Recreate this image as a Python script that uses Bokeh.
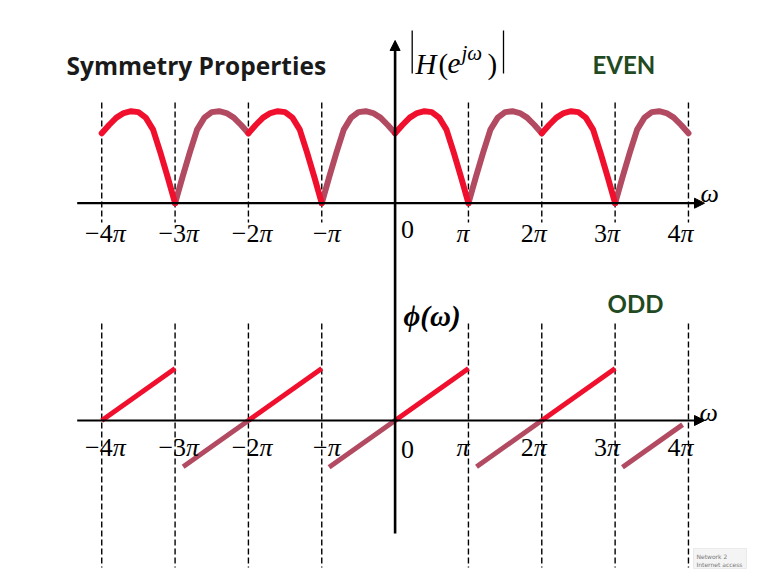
from bokeh.plotting import figure
from bokeh.models import Range1d, Label, Arrow, NormalHead, BoxAnnotation
from bokeh.core.properties import value
from bokeh.embed import file_html
from bokeh.resources import INLINE

# ---- data (angles in units of pi) ----
# one lobe of |H(e^jw)| on [0, pi], normalised to its peak
mag_w = [0.0, 0.1, 0.2, 0.3, 0.4, 0.5, 0.6, 0.7, 0.8, 0.9, 1.0]
mag_h = [0.76, 0.85, 0.93, 0.98, 1.0, 0.99, 0.93, 0.80, 0.55, 0.28, 0.0]
bright_starts = [-4, -2, 0, 2]     # lobes drawn as the base lobe
mirror_starts = [-3, -1, 1, 3]     # lobes drawn as its mirror image

# linear-phase pieces phi(w), both in units of pi
phase_w0 = [-4, -2, 0, 2, -2.89, -0.90, 1.11, 3.10]
phase_w1 = [-3, -1, 1, 3, -2.0, 0.0, 2.0, 3.92]
phase_p0 = [0, 0, 0, 0, -0.89, -0.90, -0.89, -0.90]
phase_p1 = [1, 1, 1, 1, 0.0, 0.0, 0.0, -0.08]
phase_kind = ["bright"] * 4 + ["dull"] * 4

tick_vals = [-4, -3, -2, -1, 0, 1, 2, 3, 4]
tick_coef = ["\u22124", "\u22123", "\u22122", "\u2212", "0", "", "2", "3", "4"]
tick_pi = ["\u03c0", "\u03c0", "\u03c0", "\u03c0", "", "\u03c0", "\u03c0", "\u03c0", "\u03c0"]
dash_vals = [-4, -3, -2, -1, 1, 2, 3, 4]

# ---- layout ----
W, H = 765, 582
X0, XU = 394.6, 73.34        # pixel of w = 0, pixels per pi
MAG0, MAGU = 202.7, 92.0     # magnitude axis row, pixels per unit
PH0, PHU = 420.0, 52.0       # phase axis row, pixels per pi

BRIGHT = "#f0102e"
DULL = "#b24a62"
GREEN = "#1f4a22"
SERIF = "Liberation Serif"


def fx(px):
    return (px - X0) / XU


def fm(py):
    return (MAG0 - py) / MAGU


def fp(py):
    return (PH0 - py) / PHU


p = figure(width=W, height=H, output_backend="svg", toolbar_location=None,
           x_range=Range1d(fx(0), fx(W)), y_range=Range1d(fm(H), fm(0)),
           x_axis_location=None, y_axis_location=None,
           min_border=0, outline_line_color=None)
p.extra_y_ranges = {"phase": Range1d(fp(H), fp(0))}
p.grid.visible = False
p.background_fill_color = "white"
p.border_fill_color = "white"

# dashed guides at multiples of pi
p.segment(x0=dash_vals, x1=dash_vals, y0=[fm(102)] * 8, y1=[fm(222)] * 8,
          line_color="black", line_width=1.4, line_dash="6 3")
p.segment(x0=dash_vals, x1=dash_vals, y0=[fp(323)] * 8, y1=[fp(567)] * 8,
          line_color="black", line_width=1.4, line_dash="6 3",
          y_range_name="phase")

# axes with arrow heads
def head():
    return NormalHead(size=10, fill_color="black", line_color="black", line_width=1)

p.add_layout(Arrow(end=head(), x_start=fx(76.7), x_end=fx(704), y_start=0, y_end=0,
                   line_color="black", line_width=2.2))
p.add_layout(Arrow(end=head(), x_start=fx(76.7), x_end=fx(704), y_start=0, y_end=0,
                   line_color="black", line_width=2.2, y_range_name="phase"))
p.add_layout(Arrow(end=head(), x_start=0, x_end=0, y_start=fm(533), y_end=fm(40),
                   line_color="black", line_width=2.6))

# magnitude lobes
bx = [[k + w for w in mag_w] for k in bright_starts]
by = [list(mag_h) for _ in bright_starts]
dx = [[k + 1 - w for w in mag_w] for k in mirror_starts]
dy = [list(mag_h) for _ in mirror_starts]
p.multi_line(xs=dx, ys=dy, line_color=DULL, line_width=6,
             line_join="round", line_cap="round")
p.multi_line(xs=bx, ys=by, line_color=BRIGHT, line_width=6,
             line_join="round", line_cap="round")

# phase pieces
for kind, col in (("dull", DULL), ("bright", BRIGHT)):
    idx = [i for i, k in enumerate(phase_kind) if k == kind]
    p.segment(x0=[phase_w0[i] for i in idx], x1=[phase_w1[i] for i in idx],
              y0=[phase_p0[i] for i in idx], y1=[phase_p1[i] for i in idx],
              line_color=col, line_width=5, y_range_name="phase")

# tick labels: upright coefficient, italic pi
dxs = [11, 11, 11, 6, 6, -12, -8, -8, -8]
for row, rng, base, zbase in ((0, "default", 30, 26), (1, "phase", 27, 29)):
    for v, c, pi, d in zip(tick_vals, tick_coef, tick_pi, dxs):
        yo = zbase if v == 0 else base
        align = "left" if v == 0 else "right"
        p.text(x=[v], y=[0], text=[c], x_offset=d, y_offset=yo,
               text_font=value(SERIF), text_font_size="26px",
               text_align=align, text_baseline="alphabetic",
               text_color="black", y_range_name=rng)
        if pi:
            p.text(x=[v], y=[0], text=[pi], x_offset=d, y_offset=yo,
                   text_font=value(SERIF), text_font_style="italic",
                   text_font_size="26px", text_align="left",
                   text_baseline="alphabetic", text_color="black",
                   y_range_name=rng)


def label(x, ybase, text, size, font=SERIF, style="normal", color="black"):
    p.add_layout(Label(x=x, y=H - ybase, x_units="screen", y_units="screen",
                       text=text, text_font=font, text_font_size=f"{size}px",
                       text_font_style=style, text_color=color,
                       text_baseline="alphabetic", text_align="left"))


label(66, 65, "Symmetry Properties", 24.5, font="Open Sans", style="bold", color="#1a1a1a")
label(592, 64, "EVEN", 24, font="Lato", style="bold", color=GREEN)
label(607, 303, "ODD", 24, font="Lato", style="bold", color=GREEN)

# |H(e^{jw})|
p.segment(x0=[fx(411.7), fx(503)], x1=[fx(411.7), fx(503)],
          y0=[fm(30)] * 2, y1=[fm(73)] * 2, line_color="black", line_width=1.3)
label(415, 63, "H", 29, style="italic")
label(438, 63, "(", 29)
label(447, 63, "e", 29, style="italic")
label(461, 52, "j\u03c9", 21, style="italic")
label(487, 63, ")", 29)

label(403, 315, "\u03d5(\u03c9)", 29, style="bold italic")
label(700, 193, "\u03c9", 26, style="italic")
label(699, 412, "\u03c9", 26, style="italic")

# system notification box in the corner
p.add_layout(BoxAnnotation(left=693, right=746, top=H - 548, bottom=H - 568,
                           left_units="screen", right_units="screen",
                           top_units="screen", bottom_units="screen",
                           fill_color="#f4f4f4", fill_alpha=1.0,
                           line_color="#c8c8c8", line_width=1))
label(696, 556, "Network  2", 6, font="DejaVu Sans", color="#777777")
label(696, 564, "Internet access", 6, font="DejaVu Sans", color="#777777")

open("out.html", "w").write(file_html(p, INLINE))
